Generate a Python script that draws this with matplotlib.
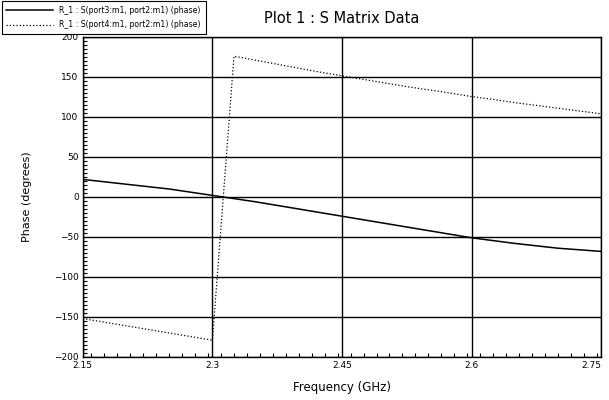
import matplotlib
matplotlib.use('Agg')
import matplotlib.pyplot as plt
from matplotlib.ticker import MultipleLocator

# S(port3, port2) phase, sampled every 0.05 GHz
freq_a = [2.15, 2.2, 2.25, 2.3, 2.35, 2.4, 2.45, 2.5, 2.55, 2.6, 2.65, 2.7, 2.75]
phase_a = [22, 16, 10, 2, -6, -15, -24, -33, -42, -51, -58, -64, -68]

# S(port4, port2) phase, sampled every 0.025 GHz (wraps at 2.3 -> 2.325)
freq_b = [2.15, 2.175, 2.2, 2.225, 2.25, 2.275, 2.3, 2.325, 2.35, 2.375, 2.4,
          2.425, 2.45, 2.475, 2.5, 2.525, 2.55, 2.575, 2.6, 2.625, 2.65,
          2.675, 2.7, 2.725, 2.75]
phase_b = [-152, -156.5, -161, -165.5, -170, -174.5, -179, 176, 171, 166, 161,
           156, 151.5, 147, 142.5, 138, 134, 130, 125.5, 122, 118,
           114.5, 111, 107.5, 104]

labels = ['R_1 : S(port3:m1, port2:m1) (phase)',
          'R_1 : S(port4:m1, port2:m1) (phase)']
xticks = [2.15, 2.3, 2.45, 2.6, 2.75]
xticklabels = ['2.15', '2.3', '2.45', '2.6', '2.75']

fig = plt.figure(figsize=(6.09, 4.0), dpi=100)
ax = fig.add_axes([0.136, 0.1075, 0.851, 0.80])

la, = ax.plot(freq_a, phase_a, '-', color='black', lw=1.1)
lb, = ax.plot(freq_b, phase_b, ':', color='black', lw=0.9)

ax.set_xlim(2.15, 2.75)
ax.set_ylim(-200, 200)
ax.set_xticks(xticks)
ax.set_xticklabels(xticklabels)
ax.set_yticks(range(-200, 201, 50))
ax.xaxis.set_minor_locator(MultipleLocator(0.015))
ax.yaxis.set_minor_locator(MultipleLocator(5))
ax.tick_params(which='both', direction='in', top=False, right=False,
               labelsize=6.5, colors='black')
ax.tick_params(which='major', length=0, pad=3)
ax.tick_params(which='minor', length=3, width=0.8)
ax.grid(True, which='major', color='black', lw=1.0)
for s in ax.spines.values():
    s.set_linewidth(1.0)
xl = ax.get_xticklabels()
xl[-1].set_ha('right')

ax.set_title('Plot 1 : S Matrix Data', fontsize=10.5, pad=10)
ax.set_xlabel('Frequency (GHz)', fontsize=8.5, labelpad=8)
ax.set_ylabel('Phase (degrees)', fontsize=8, labelpad=16)

leg = fig.legend([la, lb], labels, loc='upper left',
                 bbox_to_anchor=(0.003, 0.997), fontsize=5.6,
                 frameon=True, fancybox=False, edgecolor='black',
                 framealpha=1, handlelength=6, borderpad=0.6,
                 labelspacing=0.7, handletextpad=0.8, borderaxespad=0)
leg.get_frame().set_linewidth(0.8)
leg.set_zorder(10)

fig.savefig('out.png', dpi=100)
